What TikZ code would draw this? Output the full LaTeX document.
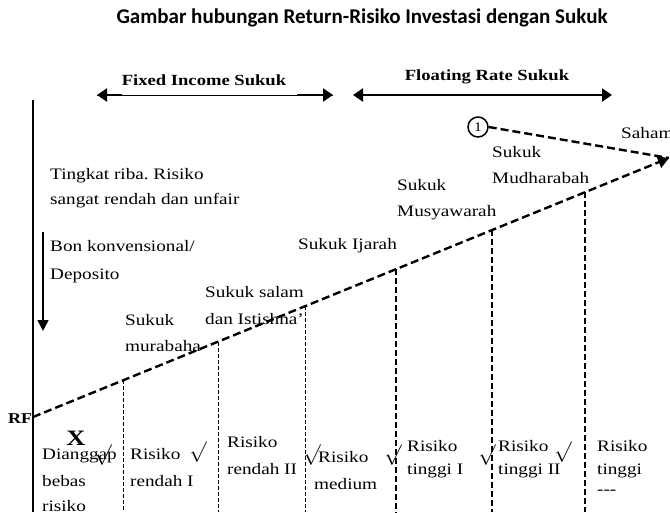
\documentclass[tikz,border=0pt]{standalone}
\usepackage{fontspec}
\setmainfont[FakeStretch=1.2]{Liberation Serif}
\newfontfamily\titlefont{Carlito}
\usetikzlibrary{arrows.meta,calc}
\frenchspacing
\tikzset{
  lbl/.style={anchor=base west, inner sep=0pt, font=\fontsize{16}{16}\selectfont},
  hdr/.style={inner sep=0pt, font=\bfseries\fontsize{15.5}{15.5}\selectfont},
  chk/.style={inner sep=0pt, font=\fontsize{22}{22}\selectfont},
  mainline/.style={line width=2.4pt, dash pattern=on 8pt off 4pt},
  thinvert/.style={line width=1pt, dash pattern=on 4pt off 2pt},
  thickvert/.style={line width=1.8pt, dash pattern=on 6pt off 3pt},
  bighead/.style={-{Triangle[length=11pt,width=12pt]}},
}
\begin{document}
\begin{tikzpicture}[x=1pt,y=-1pt]
\useasboundingbox (0,0) rectangle (670,512);
% title
\node[font=\titlefont\bfseries\fontsize{21}{21}\selectfont, inner sep=0pt] (title) at (362,18) {Gambar hubungan Return-Risiko Investasi dengan Sukuk};
% header arrows
\node[hdr] (fixed) at (204,80) {Fixed Income Sukuk};
\node[hdr] (floating) at (487,77) {Floating Rate Sukuk};
\coordinate (fa) at (97,95);
\coordinate (fb) at (333,95);
\coordinate (fa2) at (122,95);
\coordinate (fb2) at (297,95);
\draw[line width=1pt] (fa) -- (fb);
\draw[line width=2.2pt, -{Triangle[length=10pt,width=13pt]}] (fa2) -- (fa);
\draw[line width=2.2pt, -{Triangle[length=10pt,width=13pt]}] (fb2) -- (fb);
\coordinate (ga) at (353,95);
\coordinate (gb) at (612,95);
\draw[line width=2.2pt, {Triangle[length=10pt,width=13pt]}-{Triangle[length=10pt,width=13pt]}] (ga) -- (gb);
% axis
\coordinate (axtop) at (33,100);
\coordinate (axbot) at (33,512);
\draw[line width=1.5pt] (axtop) -- (axbot);
\coordinate (dtop) at (43,232);
\coordinate (dbot) at (43,331);
\draw[line width=1.5pt, -{Triangle[length=11pt,width=11pt]}] (dtop) -- (dbot);
% main dashed line
\coordinate (rf) at (33,417);
\coordinate (tip) at (669,158);
\draw[mainline, bighead] (rf) -- (tip);
% circle 1 and saham line
\node[draw, circle, line width=1.5pt, minimum size=20pt, inner sep=0pt, font=\fontsize{13}{13}\selectfont] (one) at (478,127) {1};
\draw[mainline] (one.east) -- (tip);
% vertical dashed lines
\coordinate (v1) at (123,380.3);
\coordinate (v2) at (218,341.5);
\coordinate (v3) at (305,306.0);
\coordinate (v4) at (396,268.9);
\coordinate (v5) at (492,229.7);
\coordinate (v6) at (585,191.8);
\draw[thinvert] (v1) -- (v1 |- axbot);
\draw[thinvert] (v2) -- (v2 |- axbot);
\draw[thinvert] (v3) -- (v3 |- axbot);
\draw[thickvert] (v4) -- (v4 |- axbot);
\draw[thickvert] (v5) -- (v5 |- axbot);
\draw[thickvert] (v6) -- (v6 |- axbot);
% labels
\node[lbl] (t1) at (50,179) {Tingkat riba. Risiko};
\node[lbl] (t2) at (50,204) {sangat rendah dan unfair};
\node[lbl] (b1) at (50,251) {Bon konvensional/};
\node[lbl] (b2) at (50,279) {Deposito};
\node[lbl] (s1) at (205,297) {Sukuk salam};
\node[lbl] (s2) at (205,324) {dan Istishna'};
\node[lbl] (m1) at (125,325) {Sukuk};
\node[lbl] (m2) at (125,351) {murabaha};
\node[lbl] (ij) at (298,249) {Sukuk Ijarah};
\node[lbl] (mu1) at (397,190) {Sukuk};
\node[lbl] (mu2) at (397,216) {Musyawarah};
\node[lbl] (md1) at (492,157) {Sukuk};
\node[lbl] (md2) at (492,183) {Mudharabah};
\node[lbl] (saham) at (621,138) {Saham};
\node[anchor=base west, inner sep=0pt, font=\bfseries\fontsize{15}{15}\selectfont] (rflbl) at (8,423) {RF};
\node[inner sep=0pt, font=\bfseries\fontsize{22}{22}\selectfont] (xx) at (76,438) {X};
% bottom labels
\node[lbl] (d1) at (42,459) {Dianggap};
\node[lbl] (d2) at (42,486) {bebas};
\node[lbl] (d3) at (42,511) {risiko};
\node[lbl] (r11) at (130,459) {Risiko};
\node[lbl] (r12) at (130,486) {rendah I};
\node[lbl] (r21) at (227,447) {Risiko};
\node[lbl] (r22) at (227,474) {rendah II};
\node[lbl] (r31) at (318,462) {Risiko};
\node[lbl] (r32) at (314,489) {medium};
\node[lbl] (r41) at (407,451) {Risiko};
\node[lbl] (r42) at (407,474) {tinggi I};
\node[lbl] (r51) at (498,451) {Risiko};
\node[lbl] (r52) at (498,474) {tinggi II};
\node[lbl] (r61) at (597,451) {Risiko};
\node[lbl] (r62) at (597,474) {tinggi};
\node[lbl] (r63) at (597,494) {-{}-{}-};
% check marks
\node[chk] (c1) at (103,455) {$\surd$};
\node[chk] (c2) at (198,452) {$\surd$};
\node[chk] (c3) at (312,455) {$\surd$};
\node[chk] (c4) at (393,455) {$\surd$};
\node[chk] (c5) at (487,455) {$\surd$};
\node[chk] (c6) at (563,452) {$\surd$};
\end{tikzpicture}
\end{document}
